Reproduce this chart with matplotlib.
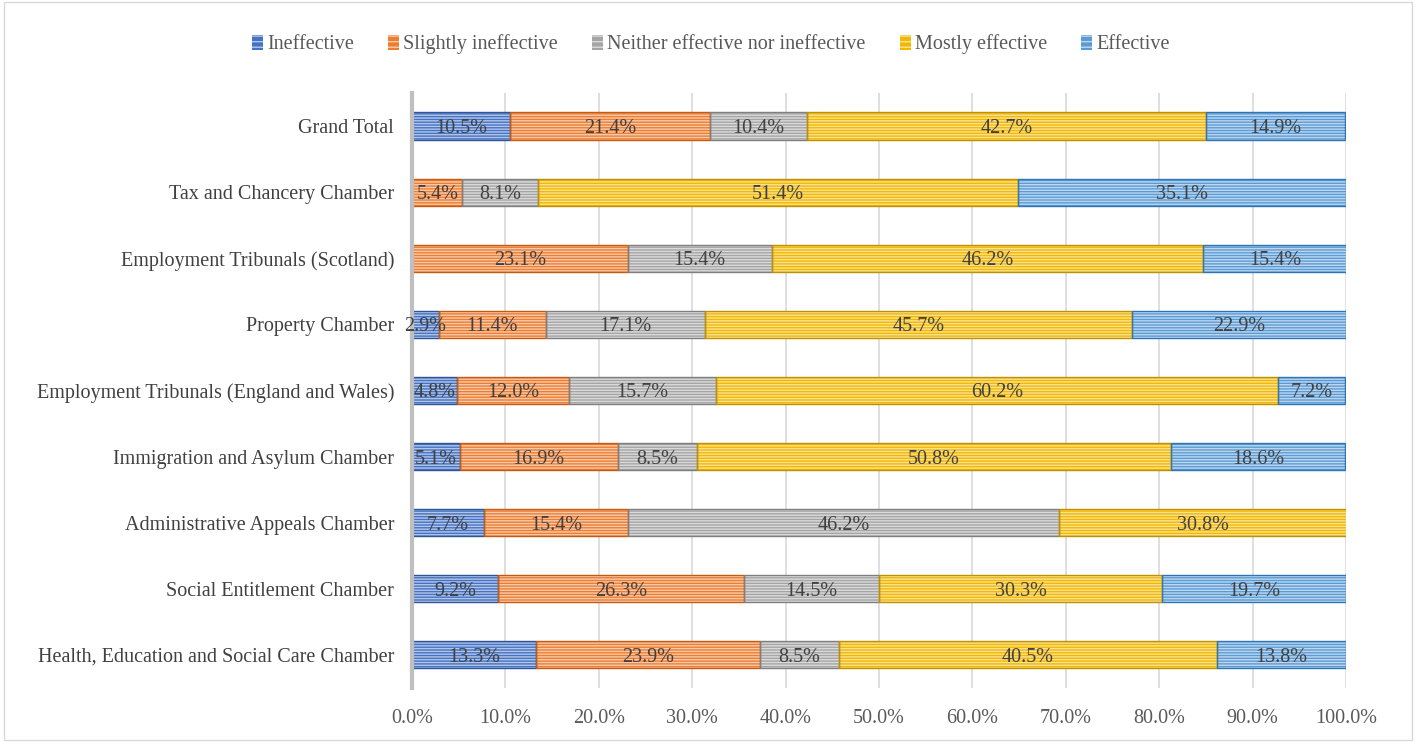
import matplotlib
matplotlib.use("Agg")
import matplotlib.pyplot as plt
from matplotlib.patches import Rectangle
import numpy as np

categories = [
    "Health, Education and Social Care Chamber",
    "Social Entitlement Chamber",
    "Administrative Appeals Chamber",
    "Immigration and Asylum Chamber",
    "Employment Tribunals (England and Wales)",
    "Property Chamber",
    "Employment Tribunals (Scotland)",
    "Tax and Chancery Chamber",
    "Grand Total",
]
series_names = ["Ineffective", "Slightly ineffective", "Neither effective nor ineffective",
                "Mostly effective", "Effective"]
ineffective = [13.3, 9.2, 7.7, 5.1, 4.8, 2.9, 0.0, 0.0, 10.5]
slightly_ineffective = [23.9, 26.3, 15.4, 16.9, 12.0, 11.4, 23.1, 5.4, 21.4]
neither = [8.5, 14.5, 46.2, 8.5, 15.7, 17.1, 15.4, 8.1, 10.4]
mostly_effective = [40.5, 30.3, 30.8, 50.8, 60.2, 45.7, 46.2, 51.4, 42.7]
effective = [13.8, 19.7, 0.0, 18.6, 7.2, 22.9, 15.4, 35.1, 14.9]
xticks = [0, 10, 20, 30, 40, 50, 60, 70, 80, 90, 100]

colors = ["#4472C4", "#ED7D31", "#A5A5A5", "#F2B800", "#5B9BD5"]
edge_colors = ["#2F5597", "#C55A11", "#7F7F7F", "#BF9000", "#2E75B6"]

plt.rcParams["font.family"] = ["Liberation Serif", "DejaVu Serif"]
plt.rcParams["hatch.linewidth"] = 1.0

fs = 14.5
fig = plt.figure(figsize=(14.16, 7.42), dpi=100)
ax = fig.add_axes([0.291, 0.0728, 0.6596, 0.802])

data = [ineffective, slightly_ineffective, neither, mostly_effective, effective]
y = np.arange(len(categories))
left = np.zeros(len(categories))
handles = []
for i, vals in enumerate(data):
    vals = np.array(vals)
    plt.rcParams["hatch.color"] = "white"
    ax.barh(y, vals, left=left, height=0.41, color=colors[i],
            edgecolor=(1, 1, 1, 0.6), hatch="------", linewidth=0, zorder=3)
    ax.barh(y, vals, left=left, height=0.41, fill=False,
            edgecolor=edge_colors[i], linewidth=1.0, zorder=4)
    for yi, (l, v) in enumerate(zip(left, vals)):
        if v > 0:
            ax.text(l + v / 2, yi, f"{v:.1f}%", ha="center", va="center_baseline",
                    fontsize=fs, color="#404040", zorder=7)
    handles.append(Rectangle((0, 0), 1, 1, facecolor=colors[i],
                             edgecolor=(1, 1, 1, 0.6), hatch="---", linewidth=0))
    left = left + vals

ax.set_xlim(0, 100)
ax.set_ylim(-0.5, len(categories) - 0.5)
ax.set_yticks(y)
ax.set_yticklabels(categories, fontsize=fs, color="#404040")
ax.set_xticks(xticks)
ax.set_xticklabels([f"{t:.1f}%" for t in xticks], fontsize=fs, color="#595959")
ax.tick_params(axis="both", length=0)
ax.tick_params(axis="y", pad=13)
ax.tick_params(axis="x", pad=15)
ax.grid(axis="x", color="#D9D9D9", linewidth=1.2, zorder=0)
for s in ["top", "right", "bottom"]:
    ax.spines[s].set_visible(False)
ax.spines["left"].set_color("#BFBFBF")
ax.spines["left"].set_linewidth(3)
ax.spines["left"].set_zorder(6)

fig.legend(handles, series_names, loc="center", bbox_to_anchor=(0.502, 0.94),
           ncol=5, frameon=False, fontsize=fs, labelcolor="#595959",
           handlelength=0.55, handleheight=0.75, handletextpad=0.2, columnspacing=1.7)

border = Rectangle((0.003, 0.003), 0.994, 0.994, transform=fig.transFigure,
                   fill=False, edgecolor="#D9D9D9", linewidth=1)
fig.patches.append(border)

fig.savefig("out.png", dpi=100)
